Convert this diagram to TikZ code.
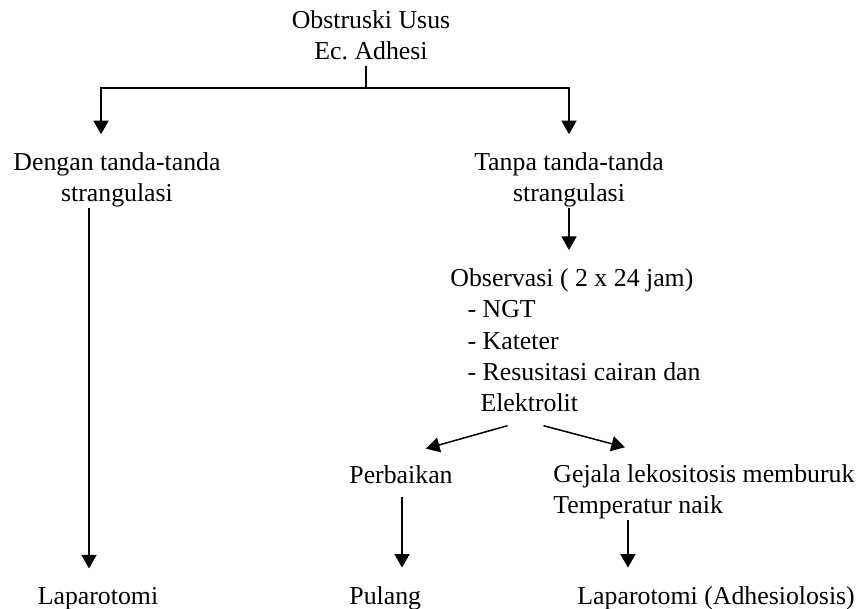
\documentclass[tikz,border=0pt]{standalone}
\usepackage{fontspec}
\setmainfont{Liberation Serif}
\usetikzlibrary{arrows.meta,calc}
\frenchspacing

\begin{document}
\begin{tikzpicture}[x=0.465pt,y=-0.465pt,
  every node/.style={inner sep=0pt,font=\fontsize{12pt}{14.6pt}\selectfont},
  line/.style={line width=0.7pt},
  arr/.style={line width=0.7pt,-{Triangle[length=6.3pt,width=7pt]}},
  down/.style={arr,shorten >=8.4pt}]
\useasboundingbox (0,0) rectangle (866,609);
\node[anchor=base,align=center] (top) at (371,60) {Obstruski Usus\\Ec. Adhesi};
\node[anchor=base,align=center] (dengan) at (117,202) {Dengan tanda-tanda\\strangulasi};
\node[anchor=base,align=center] (tanpa) at (569,202) {Tanpa tanda-tanda\\strangulasi};
\node[anchor=base west,align=left] (obs) at (450,412) {Observasi ( 2 x 24 jam)\\
  \hspace*{8pt}- NGT\\
  \hspace*{8pt}- Kateter\\
  \hspace*{8pt}- Resusitasi cairan dan\\
  \hspace*{14pt}Elektrolit};
\node[anchor=base] (perb) at (401,484) {Perbaikan};
\node[anchor=base west,align=left] (gejala) at (553,514) {Gejala lekositosis memburuk\\Temperatur naik};
\node[anchor=base] (lap1) at (98,604) {Laparotomi};
\node[anchor=base west] (pulang) at (349,604) {Pulang};
\node[anchor=base west] (lap2) at (577,604) {Laparotomi (Adhesiolosis)};
\coordinate (split) at (366,88);
\coordinate (colL) at (101,88);
\coordinate (d1) at ($(dengan.south)+(-28,0)$);
\coordinate (p1) at ($(perb.south)+(1,12)$);
\coordinate (g1) at ($(gejala.south)+(-76,0)$);
\draw[line] (split |- top.south) ++(0,5) -- (split);
\draw[down] (split) -| (colL |- dengan.north);
\draw[down] (split) -| (tanpa.north);
\draw[down] (d1) -- (d1 |- lap1.north);
\draw[down] (tanpa.south) -- (tanpa.south |- obs.north);
\draw[arr] ($(obs.south)+(-68,13)$) -- ($(perb.north)+(25,-17)$);
\draw[arr] ($(obs.south)+(-32,13)$) -- ($(gejala.north)+(-79,-17)$);
\draw[down] (p1) -- (p1 |- pulang.north);
\draw[down] (g1) -- (g1 |- lap2.north);
\end{tikzpicture}
\end{document}
